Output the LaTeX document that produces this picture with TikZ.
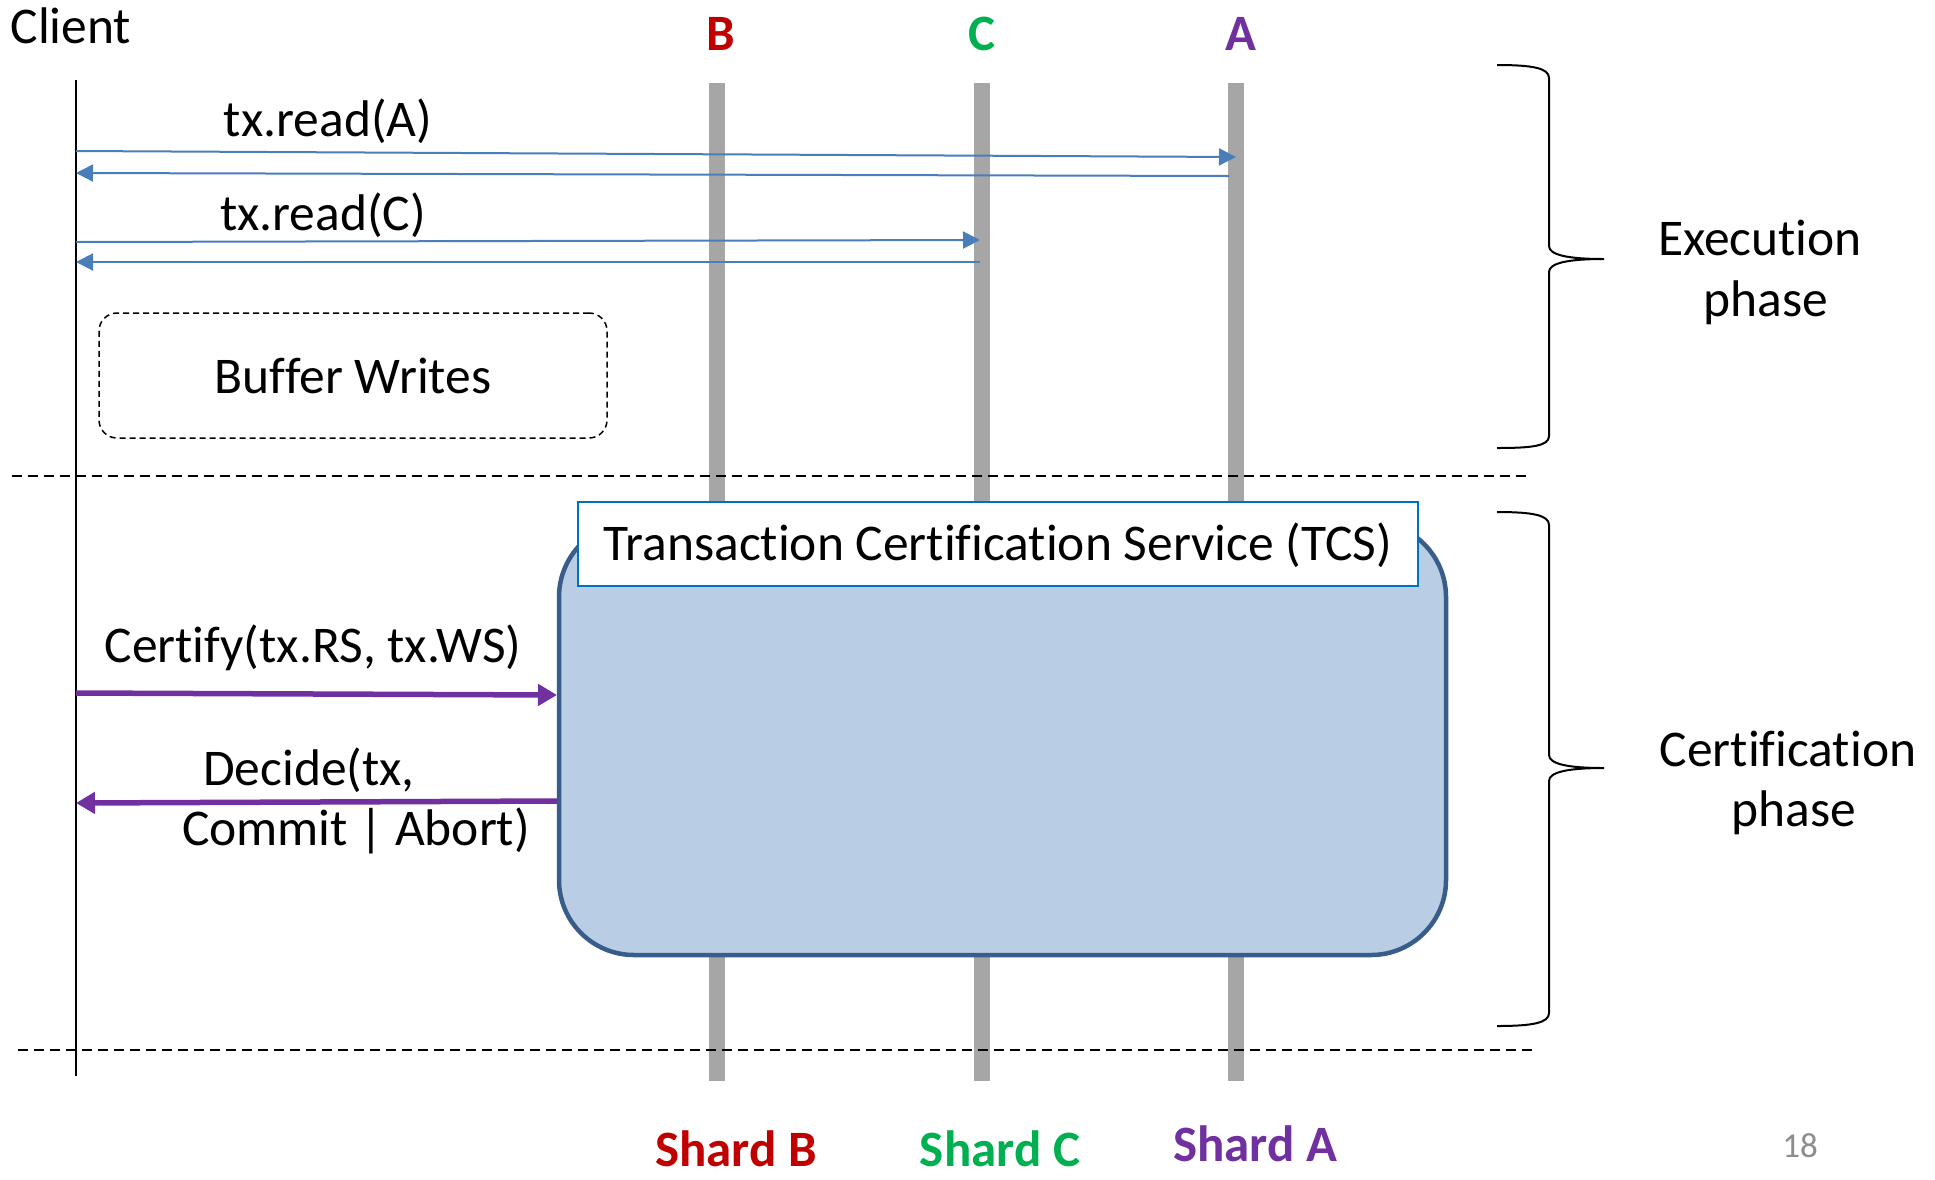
\documentclass[tikz,border=0pt]{standalone}
\usepackage{fontspec}
\setmainfont{Carlito}[Ligatures=NoCommon]
\usetikzlibrary{arrows.meta}

\definecolor{shardgray}{HTML}{A6A6A6}
\definecolor{msgblue}{HTML}{4A7EBB}
\definecolor{certpurple}{HTML}{7030A0}
\definecolor{shardred}{HTML}{C00000}
\definecolor{shardgreen}{HTML}{00B050}
\definecolor{tcsfill}{HTML}{B9CDE5}
\definecolor{tcsedge}{HTML}{385D8A}
\definecolor{tcsframe}{HTML}{0070C0}
\definecolor{pagenum}{HTML}{8C8C8C}

\begin{document}
\begin{tikzpicture}[x=1pt,y=-1pt,
  txt/.style={inner sep=0pt, anchor=base, font=\fontsize{51.5}{61}\selectfont},
  boldtxt/.style={inner sep=0pt, anchor=base, font=\fontsize{51}{61}\selectfont\bfseries},
  lifeline/.style={line width=16pt, shardgray},
  clientline/.style={line width=1.8pt, black},
  msg/.style={msgblue, line width=2pt, -{Triangle[length=17pt,width=17pt]}},
  certmsg/.style={certpurple, line width=5.5pt, -{Triangle[length=19pt,width=21pt]}},
  phasesep/.style={black, line width=2pt, dash pattern=on 10pt off 6pt},
  brace/.style={black, line width=2pt},
]
\useasboundingbox (0,0) rectangle (1935,1179);

% ---------- lifelines ----------
\coordinate (cTop) at (76,80);
\coordinate (cBot) at (76,1076);
\coordinate (Btop) at (717,83);  \coordinate (Bbot) at (717,1081);
\coordinate (Ctop) at (982,83);  \coordinate (Cbot) at (982,1081);
\coordinate (Atop) at (1236,83); \coordinate (Abot) at (1236,1081);

\draw[lifeline] (Btop) -- (Bbot);
\draw[lifeline] (Ctop) -- (Cbot);
\draw[lifeline] (Atop) -- (Abot);
\draw[clientline] (cTop) -- (cBot);

% ---------- phase separators ----------
\coordinate (sep1L) at (12,476);  \coordinate (sep1R) at (1530,476);
\coordinate (sep2L) at (18,1050); \coordinate (sep2R) at (1537,1050);
\draw[phasesep] (sep1L) -- (sep1R);
\draw[phasesep] (sep2L) -- (sep2R);

% ---------- headings ----------
\node[txt] (client) at (71,43) {Client};
\node[boldtxt, text=shardred]   (hB) at (721,50)  {B};
\node[boldtxt, text=shardgreen] (hC) at (982,50)  {C};
\node[boldtxt, text=certpurple] (hA) at (1241,50) {A};

% ---------- execution phase ----------
\coordinate (m1s) at (76,151);   \coordinate (m1e) at (1236,157);
\coordinate (m2s) at (1229,176); \coordinate (m2e) at (76,173);
\coordinate (m3s) at (76,242);   \coordinate (m3e) at (980,240);
\coordinate (m4s) at (980,262);  \coordinate (m4e) at (76,262);
\draw[msg] (m1s) -- (m1e);
\draw[msg] (m2s) -- (m2e);
\draw[msg] (m3s) -- (m3e);
\draw[msg] (m4s) -- (m4e);
\node[txt] (readA) at (328,136) {tx.read(A)};
\node[txt] (readC) at (323,230) {tx.read(C)};

\node[draw, line width=1.5pt, dash pattern=on 6pt off 4pt, rounded corners=18pt,
      minimum width=508pt, minimum height=125pt, inner sep=0pt]
      (buffer) at (353,375.5) {};
\node[txt] (bufferText) at (353,393) {Buffer Writes};

% ---------- certification phase ----------
\node[draw=tcsedge, fill=tcsfill, line width=4.5pt, rounded corners=75pt,
      minimum width=887pt, minimum height=433pt, inner sep=0pt]
      (tcs) at (1002.5,738.5) {};
\node[draw=tcsframe, fill=white, line width=2pt, minimum width=840pt,
      minimum height=84pt, inner sep=0pt, text height=40pt, text depth=8pt,
      font=\fontsize{51.5}{61}\selectfont]
      (tcsLabel) at (998,544) {Transaction Certification Service (TCS)};

\coordinate (certS) at (76,693);  \coordinate (certE) at (557,695);
\coordinate (decS) at (557,801);  \coordinate (decE) at (76,803);
\draw[certmsg] (certS) -- (certE);
\draw[certmsg] (decS) -- (decE);
\node[txt] (certifyText) at (313,662) {Certify(tx.RS, tx.WS)};
\node[txt] (decideA) at (309,785) {Decide(tx,};
\node[txt] (decideB) at (356,845) {Commit | Abort)};

% ---------- phase braces ----------
\draw[brace] (1497,65) .. controls (1532,65) and (1549,68) .. (1549,78)
  -- (1549,246) .. controls (1549,255) and (1568,259) .. (1604,259)
  .. controls (1568,259) and (1549,263) .. (1549,272)
  -- (1549,436) .. controls (1549,446) and (1532,448) .. (1497,448);
\draw[brace] (1497,512) .. controls (1532,512) and (1549,515) .. (1549,525)
  -- (1549,755) .. controls (1549,764) and (1568,768) .. (1604,768)
  .. controls (1568,768) and (1549,772) .. (1549,781)
  -- (1549,1013) .. controls (1549,1023) and (1532,1026) .. (1497,1026);

\node[txt] (execA) at (1760,255) {Execution};
\node[txt] (execB) at (1766,316) {phase};
\node[txt] (certA) at (1788,766) {Certification};
\node[txt] (certB) at (1794,826) {phase};

% ---------- shard names ----------
\node[boldtxt, text=shardred]   (shardB) at (736,1166)  {Shard B};
\node[boldtxt, text=shardgreen] (shardC) at (1000,1166) {Shard C};
\node[boldtxt, text=certpurple] (shardA) at (1255,1161) {Shard A};

\node[inner sep=0pt, anchor=base, text=pagenum, font=\fontsize{35}{42}\selectfont]
  (page) at (1800,1157) {18};
\end{tikzpicture}
\end{document}
